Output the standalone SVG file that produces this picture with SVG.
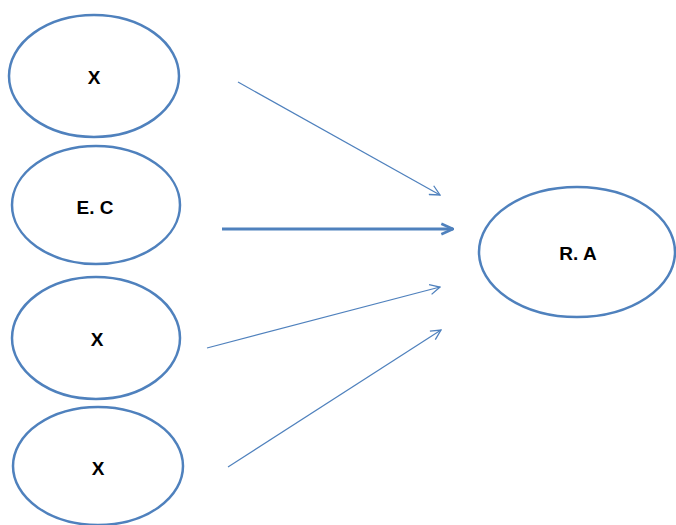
<svg xmlns="http://www.w3.org/2000/svg" width="676" height="525" viewBox="0 0 676 525">
<style>
.node ellipse{fill:#fff;stroke:#4f81bd;stroke-width:2.5}
.node text{font-family:"Liberation Sans",Arial,sans-serif;font-weight:bold;font-size:19px;fill:#000;text-anchor:middle;dominant-baseline:central}
.edges line{stroke:#4f81bd;fill:none}
.thin{stroke-width:1.2}
.thick{stroke-width:2.8}
</style>
<defs>
<marker id="vh" viewBox="0 0 12 12" refX="11" refY="6" markerWidth="12" markerHeight="12" markerUnits="userSpaceOnUse" orient="auto">
<path d="M1,1 L11,6 L1,11" fill="none" stroke="#4f81bd" stroke-width="1.3"/>
</marker>
<marker id="vhb" viewBox="0 0 12 12" refX="11" refY="6" markerWidth="14" markerHeight="14" markerUnits="userSpaceOnUse" orient="auto">
<path d="M1,1.5 L11,6 L1,10.5" fill="none" stroke="#4f81bd" stroke-width="2.2"/>
</marker>
</defs>
<rect width="676" height="525" fill="#fff"/>
<g class="edges">
<line class="thin" x1="238" y1="82" x2="440" y2="195" marker-end="url(#vh)"/>
<line class="thick" x1="222" y1="229" x2="453" y2="229" marker-end="url(#vhb)"/>
<line class="thin" x1="207" y1="348" x2="440" y2="287" marker-end="url(#vh)"/>
<line class="thin" x1="228" y1="467" x2="441" y2="330" marker-end="url(#vh)"/>
</g>
<g id="n1" class="node"><ellipse cx="94" cy="76" rx="85" ry="61"/><text x="94" y="77">X</text></g>
<g id="n2" class="node"><ellipse cx="96" cy="205" rx="84" ry="59"/><text x="95" y="207">E. C</text></g>
<g id="n3" class="node"><ellipse cx="96" cy="338" rx="84" ry="61"/><text x="97" y="339">X</text></g>
<g id="n4" class="node"><ellipse cx="98" cy="466" rx="85" ry="59"/><text x="98" y="468">X</text></g>
<g id="n5" class="node"><ellipse cx="577" cy="252" rx="98" ry="65"/><text x="578" y="253">R. A</text></g>
</svg>
